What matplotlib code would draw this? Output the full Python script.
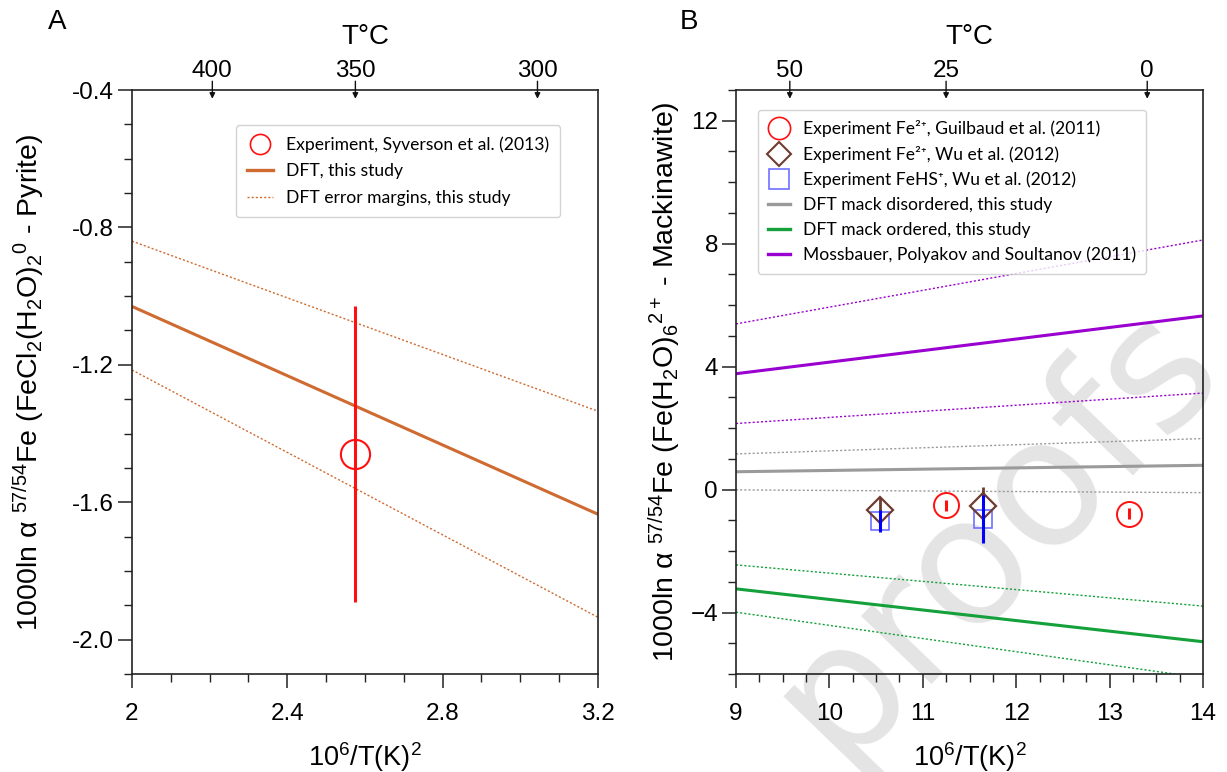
import matplotlib
matplotlib.use("Agg")
import matplotlib.pyplot as plt
from matplotlib.ticker import MultipleLocator, FixedLocator
from matplotlib.lines import Line2D
import numpy as np

plt.rcParams['font.family'] = ['Liberation Sans', 'DejaVu Sans']
plt.rcParams['mathtext.fontset'] = 'custom'
plt.rcParams['mathtext.rm'] = 'Liberation Sans'
plt.rcParams['mathtext.it'] = 'Liberation Sans:italic'
plt.rcParams['mathtext.bf'] = 'Liberation Sans:bold'

# ---------------- Panel A data ----------------
a_x = [2.0, 3.2]
a_dft = [-1.03, -1.635]
a_dft_hi = [-0.84, -1.335]
a_dft_lo = [-1.215, -1.935]
a_exp_x = [2.575]
a_exp_y = [-1.46]
a_exp_err = [0.43]
a_top_T = [400, 350, 300]

# ---------------- Panel B data ----------------
b_x = [9.0, 14.0]
b_moss = [3.77, 5.65]
b_moss_hi = [5.39, 8.12]
b_moss_lo = [2.15, 3.14]
b_dis = [0.58, 0.79]
b_dis_hi = [1.16, 1.66]
b_dis_lo = [-0.01, -0.10]
b_ord = [-3.23, -4.95]
b_ord_hi = [-2.45, -3.79]
b_ord_lo = [-3.99, -6.13]
b_guil_x = [11.25, 13.21]
b_guil_y = [-0.51, -0.79]
b_guil_err = [0.18, 0.18]
b_wu_fe_x = [10.54, 11.64]
b_wu_fe_y = [-0.66, -0.52]
b_wu_fe_err = [0.42, 0.60]
b_wu_hs_x = [10.54, 11.64]
b_wu_hs_y = [-1.02, -0.96]
b_wu_hs_err = [0.37, 0.78]
b_top_T = [50, 25, 0]

W, H = 1227, 772
fig = plt.figure(figsize=(W / 100, H / 100), dpi=100)
fig.patch.set_facecolor('white')

def px_axes(l, r, t, b):
    return fig.add_axes([l / W, 1 - b / H, (r - l) / W, (b - t) / H])

axA = px_axes(132, 598, 90, 674)
axB = px_axes(736, 1203, 90, 674)

ORANGE = '#CF6A30'
RED = '#FF1010'
PURPLE = '#9A00D0'
GRAY = '#9A9A9A'
GREEN = '#14A03A'
BROWN = '#6E3B30'
BLUE = '#0000FF'
LBLUE = '#6F6FFF'

TICKFS = 17.5
legfont = {'family': ['Lato', 'DejaVu Sans'], 'size': 12.6}

def style_axes(ax):
    ax.set_facecolor('none')
    for s in ax.spines.values():
        s.set_linewidth(1.2)
        s.set_color('#222222')
    ax.tick_params(which='both', direction='out', top=False, right=False,
                   labelsize=TICKFS, color='#222222')
    ax.tick_params(which='major', length=10, width=1.1)
    ax.tick_params(which='minor', length=5.5, width=1.0)
    ax.tick_params(axis='x', which='major', pad=11)
    ax.tick_params(axis='y', which='major', pad=3)

def top_arrows(ax, temps):
    for T in temps:
        xv = 1e6 / (T + 273.15) ** 2
        ax.annotate('', xy=(xv, 0.985), xytext=(xv, 1.015),
                    xycoords=('data', 'axes fraction'),
                    arrowprops=dict(arrowstyle='-|>', color='#111111', lw=1.0,
                                    mutation_scale=8, shrinkA=0, shrinkB=0),
                    annotation_clip=False)
        ax.text(xv, 1.014, str(T), transform=ax.get_xaxis_transform(),
                ha='center', va='bottom', fontsize=TICKFS)
    ax.text(0.5, 1.068, 'T°C', transform=ax.transAxes, ha='center',
            va='bottom', fontsize=20)

# ---------------- Panel A ----------------
style_axes(axA)
axA.plot(a_x, a_dft, color=ORANGE, lw=2.2, solid_capstyle='butt')
axA.plot(a_x, a_dft_hi, color=ORANGE, lw=1.0, ls=(0, (1.5, 1.5)))
axA.plot(a_x, a_dft_lo, color=ORANGE, lw=1.0, ls=(0, (1.5, 1.5)))
axA.errorbar(a_exp_x, a_exp_y, yerr=a_exp_err, fmt='none', ecolor=RED,
             elinewidth=2.2, capsize=0)
axA.plot(a_exp_x, a_exp_y, 'o', ms=21, mfc='none', mec=RED, mew=1.5)
axA.set_xlim(2.0, 3.2)
axA.set_ylim(-2.1, -0.4)
axA.xaxis.set_major_locator(FixedLocator([2.0, 2.4, 2.8, 3.2]))
axA.set_xticklabels(['2', '2.4', '2.8', '3.2'])
axA.xaxis.set_minor_locator(MultipleLocator(0.1))
axA.yaxis.set_major_locator(FixedLocator([-2.0, -1.6, -1.2, -0.8, -0.4]))
axA.set_yticklabels(['-2.0', '-1.6', '-1.2', '-0.8', '-0.4'])
axA.yaxis.set_minor_locator(MultipleLocator(0.1))
axA.set_xlabel('10$^{6}$/T(K)$^{2}$', fontsize=19.5)
axA.xaxis.set_label_coords(0.5, -0.114)
axA.set_ylabel('1000ln α $^{57/54}$Fe (FeCl$_{2}$(H$_{2}$O)$_{2}$$^{0}$ - Pyrite)',
               fontsize=20.5)
axA.yaxis.set_label_coords(-0.183, 0.5)
top_arrows(axA, a_top_T)

hA = [Line2D([], [], ls='none', marker='o', ms=14.5, mfc='none', mec=RED, mew=1.2),
      Line2D([], [], color=ORANGE, lw=2.4),
      Line2D([], [], color=ORANGE, lw=1.0, ls=(0, (1.5, 1.5)))]
lA = ['Experiment, Syverson et al. (2013)', 'DFT, this study',
      'DFT error margins, this study']
legA = axA.legend(hA, lA, loc='upper left', bbox_to_anchor=(0.223, 0.94),
                  prop=legfont, frameon=True, fancybox=True, handlelength=1.45,
                  handletextpad=0.75, borderpad=0.65, labelspacing=0.6,
                  borderaxespad=0)
legA.get_frame().set_edgecolor('#C8C8C8')
legA.get_frame().set_linewidth(1.0)

# ---------------- Panel B ----------------
style_axes(axB)
axB.plot(b_x, b_moss, color=PURPLE, lw=2.2)
axB.plot(b_x, b_moss_hi, color=PURPLE, lw=1.0, ls=(0, (1.5, 1.5)))
axB.plot(b_x, b_moss_lo, color=PURPLE, lw=1.0, ls=(0, (1.5, 1.5)))
axB.plot(b_x, b_dis, color=GRAY, lw=2.2)
axB.plot(b_x, b_dis_hi, color=GRAY, lw=1.0, ls=(0, (1.5, 1.5)))
axB.plot(b_x, b_dis_lo, color=GRAY, lw=1.0, ls=(0, (1.5, 1.5)))
axB.plot(b_x, b_ord, color=GREEN, lw=2.2)
axB.plot(b_x, b_ord_hi, color=GREEN, lw=1.0, ls=(0, (1.5, 1.5)))
axB.plot(b_x, b_ord_lo, color=GREEN, lw=1.0, ls=(0, (1.5, 1.5)))

axB.plot(b_wu_hs_x, b_wu_hs_y, 's', ms=13.5, mfc='none', mec=LBLUE, mew=1.2)
axB.errorbar(b_wu_fe_x, b_wu_fe_y, yerr=b_wu_fe_err, fmt='none', ecolor=BROWN,
             elinewidth=2.0, capsize=0)
axB.plot(b_wu_fe_x, b_wu_fe_y, 'D', ms=13.5, mfc='none', mec=BROWN, mew=1.6)
axB.errorbar(b_wu_hs_x, b_wu_hs_y, yerr=b_wu_hs_err, fmt='none', ecolor=BLUE,
             elinewidth=2.2, capsize=0)
axB.errorbar(b_guil_x, b_guil_y, yerr=b_guil_err, fmt='none', ecolor=RED,
             elinewidth=2.2, capsize=0)
axB.plot(b_guil_x, b_guil_y, 'o', ms=18, mfc='none', mec=RED, mew=1.4)

axB.set_xlim(9, 14)
axB.set_ylim(-6, 13)
axB.xaxis.set_major_locator(MultipleLocator(1))
axB.xaxis.set_minor_locator(MultipleLocator(0.25))
axB.yaxis.set_major_locator(FixedLocator([-4, 0, 4, 8, 12]))
axB.yaxis.set_minor_locator(MultipleLocator(1))
axB.set_xlabel('10$^{6}$/T(K)$^{2}$', fontsize=19.5)
axB.xaxis.set_label_coords(0.5, -0.114)
axB.set_ylabel('1000ln α $^{57/54}$Fe (Fe(H$_{2}$O)$_{6}$$^{2+}$ - Mackinawite)',
               fontsize=20.5)
axB.yaxis.set_label_coords(-0.114, 0.5)
top_arrows(axB, b_top_T)

hB = [Line2D([], [], ls='none', marker='o', ms=16, mfc='none', mec=RED, mew=1.2),
      Line2D([], [], ls='none', marker='D', ms=12, mfc='none', mec=BROWN, mew=1.5),
      Line2D([], [], ls='none', marker='s', ms=14, mfc='none', mec=LBLUE, mew=1.2),
      Line2D([], [], color=GRAY, lw=2.4),
      Line2D([], [], color=GREEN, lw=2.4),
      Line2D([], [], color=PURPLE, lw=2.4)]
lB = ['Experiment Fe²⁺, Guilbaud et al. (2011)',
      'Experiment Fe²⁺, Wu et al. (2012)',
      'Experiment FeHS⁺, Wu et al. (2012)',
      'DFT mack disordered, this study',
      'DFT mack ordered, this study',
      'Mossbauer, Polyakov and Soultanov (2011)']
legB = axB.legend(hB, lB, loc='upper left', bbox_to_anchor=(0.047, 0.966),
                  prop=legfont, frameon=True, fancybox=True, handlelength=1.25,
                  handletextpad=0.7, borderpad=0.6, labelspacing=0.5,
                  borderaxespad=0)
legB.get_frame().set_edgecolor('#C8C8C8')
legB.get_frame().set_linewidth(1.0)

# panel letters
fig.text(48 / W, 1 - 22 / H, 'A', fontsize=20, ha='left', va='center')
fig.text(680 / W, 1 - 22 / H, 'B', fontsize=20, ha='left', va='center')

# watermark
fig.text(995 / W, 1 - 530 / H, 'proofs', rotation=46, fontsize=128,
         color='#E4E4E4', ha='center', va='center', zorder=-10,
         family='DejaVu Sans')

fig.savefig('out.png', dpi=100, facecolor='white')
